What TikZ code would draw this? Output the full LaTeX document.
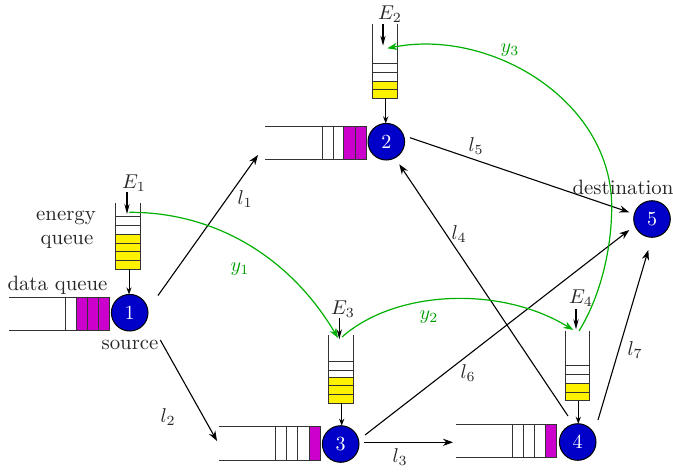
\documentclass[tikz,border=0pt]{standalone}
\usetikzlibrary{arrows.meta}
\definecolor{qmag}{RGB}{204,0,204}
\definecolor{nblue}{RGB}{0,0,200}
\definecolor{cgreen}{RGB}{0,176,0}
\tikzset{
  x=0.5pt,y=-0.5pt,
  every node/.style={inner sep=0pt,outer sep=0pt},
  server/.style={circle,draw=black,fill=nblue,line width=0.5pt,minimum size=18.3pt,text=white,font=\fontsize{10}{12}\selectfont},
  label/.style={text=black!85,font=\fontsize{10.4}{12.5}\selectfont},
  green label/.style={text=cgreen!90!black,font=\fontsize{10.4}{12.5}\selectfont},
  link/.style={draw=black,line width=0.55pt,-{Stealth[length=5pt,width=3.6pt]}},
  feed/.style={draw=black,line width=0.5pt,-{Stealth[length=3.5pt,width=2.6pt]}},
  harvest/.style={draw=black,line width=0.55pt,-{Stealth[length=5pt,width=2.6pt]}},
  green link/.style={draw=cgreen,line width=0.6pt,-{Stealth[length=5pt,width=3.6pt]}},
  green line/.style={draw=cgreen,line width=0.6pt},
  wall/.style={draw=black!80,line width=0.45pt},
}
\begin{document}
\begin{tikzpicture}
\useasboundingbox (0,0) rectangle (673,472);
% servers
\node[server] (n1) at (129.7,312.7) {1};
\node[server] (n2) at (386.3,141.7) {2};
\node[server] (n3) at (340.7,444) {3};
\node[server] (n4) at (577.7,442) {4};
\node[server] (n5) at (652,219) {5};
% data queue 1
\fill[qmag] (76.3,297.3) rectangle (109.7,330.7);
\draw[wall] (8.5,297.3) -- (109.7,297.3) -- (109.7,330.7) -- (8.5,330.7);
\foreach \x in {65.7,76.3,87.3,98.3} \draw[wall] (\x,297.3) -- (\x,330.7);
% data queue 2
\fill[qmag] (343.7,126.7) rectangle (366,159.7);
\draw[wall] (265,126.7) -- (366,126.7) -- (366,159.7) -- (265,159.7);
\foreach \x in {322,333,343.7,355} \draw[wall] (\x,126.7) -- (\x,159.7);
% data queue 3
\fill[qmag] (309,426.7) rectangle (320,460);
\draw[wall] (219,426.7) -- (320,426.7) -- (320,460) -- (219,460);
\foreach \x in {275.7,286.7,297.7,309} \draw[wall] (\x,426.7) -- (\x,460);
% data queue 4
\fill[qmag] (545.3,424.7) rectangle (556.7,457.7);
\draw[wall] (456,424.7) -- (556.7,424.7) -- (556.7,457.7) -- (456,457.7);
\foreach \x in {512.3,523.3,534.3,545.3} \draw[wall] (\x,424.7) -- (\x,457.7);
% energy queue 1
\fill[yellow] (115.7,234.3) rectangle (140.3,269);
\draw[wall] (115.7,203.3) -- (115.7,269) -- (140.3,269) -- (140.3,203.3);
\foreach \y in {216.3,225,234.3,243,251.7,260.3} \draw[wall] (115.7,\y) -- (140.3,\y);
% energy queue 2
\fill[yellow] (372.3,81) rectangle (397,98.3);
\draw[wall] (372.3,24) -- (372.3,98.3) -- (397,98.3) -- (397,24);
\foreach \y in {63,72,81,89.7} \draw[wall] (372.3,\y) -- (397,\y);
% energy queue 3
\fill[yellow] (328.3,377) rectangle (353,403.3);
\draw[wall] (328.3,335) -- (328.3,403.3) -- (353,403.3) -- (353,335);
\foreach \y in {361.3,370,377,385.7,394.3} \draw[wall] (328.3,\y) -- (353,\y);
% energy queue 4
\fill[yellow] (565.3,383.3) rectangle (589.3,400.7);
\draw[wall] (565.3,330.7) -- (565.3,400.7) -- (589.3,400.7) -- (589.3,330.7);
\foreach \y in {365.7,374.7,383.3,392} \draw[wall] (565.3,\y) -- (589.3,\y);
% free ends
\coordinate (e1a) at (127,192.3); \coordinate (e1b) at (127,214);
\coordinate (e2a) at (383,24); \coordinate (e2b) at (383,45.7);
\coordinate (e3a) at (339.3,317.7); \coordinate (e3b) at (339.3,339.3);
\coordinate (e4a) at (576,309); \coordinate (e4b) at (576,329.3);
\coordinate (f1a) at (129,269); \coordinate (f1b) at (129,294.4);
\coordinate (f2a) at (385.7,98.3); \coordinate (f2b) at (385.7,123.4);
\coordinate (f3a) at (341.7,403.3); \coordinate (f3b) at (341.7,425.7);
\coordinate (f4a) at (578.3,400.7); \coordinate (f4b) at (578.3,423.7);
\coordinate (a1) at (158,295.5); \coordinate (q2in) at (258,155);
\coordinate (a2) at (160.3,340); \coordinate (q3in) at (217,441);
\coordinate (a3) at (364,442.3); \coordinate (q4in) at (453,442.3);
\coordinate (a6) at (365,435); \coordinate (b6) at (629.3,230);
\coordinate (a7) at (598,420); \coordinate (b7) at (648.3,250);
\coordinate (a4) at (568,416); \coordinate (b4) at (399.3,164.3);
\coordinate (a5) at (410,137.7); \coordinate (b5) at (629.3,212.3);
\coordinate (g1a) at (129.3,212.3); \coordinate (g1b) at (338,338);
\coordinate (g2a) at (342,337); \coordinate (g2b) at (573.3,330);
\coordinate (g3a) at (579,331); \coordinate (g3m) at (611.7,206.7); \coordinate (g3b) at (387.3,48.3);
% arrows
\draw[harvest] (e1a) -- (e1b);
\draw[harvest] (e2a) -- (e2b);
\draw[harvest] (e3a) -- (e3b);
\draw[harvest] (e4a) -- (e4b);
\draw[feed] (f1a) -- (f1b);
\draw[feed] (f2a) -- (f2b);
\draw[feed] (f3a) -- (f3b);
\draw[feed] (f4a) -- (f4b);
\draw[link] (a1) -- (q2in);
\draw[link] (a2) -- (q3in);
\draw[link] (a3) -- (q4in);
\draw[link] (a6) -- (b6);
\draw[link] (a7) -- (b7);
\draw[link] (a4) -- (b4);
\draw[link] (a5) -- (b5);
\draw[green link] (g1a) .. controls (215,212) and (290,257) .. (g1b);
\draw[green link] (g2a) .. controls (395,290) and (500,285) .. (g2b);
\draw[green link] (g3a) .. controls (600,297) and (611.7,250) .. (g3m) .. controls (611.7,100) and (490,28) .. (g3b);
% labels
\node[label] (tE1) at (134,183) {$E_1$};
\node[label] (tE2) at (390,14) {$E_2$};
\node[label] (tE3) at (343,309) {$E_3$};
\node[label] (tE4) at (581,298) {$E_4$};
\node[label] (tdest) at (623,187) {destination};
\node[label] (tdata) at (57.5,285) {data queue};
\node[label] (ten) at (66,218) {energy};
\node[label] (tqu) at (67,242) {queue};
\node[label] (tsrc) at (130,345) {source};
\node[label] (tl1) at (245,199) {$l_1$};
\node[label] (tl2) at (168,417) {$l_2$};
\node[label] (tl3) at (400,457) {$l_3$};
\node[label] (tl4) at (459,234) {$l_4$};
\node[label] (tl5) at (476,146) {$l_5$};
\node[label] (tl6) at (468,373) {$l_6$};
\node[label] (tl7) at (635,350) {$l_7$};
\node[green label] (ty1) at (240,269) {$y_1$};
\node[green label] (ty2) at (429,317) {$y_2$};
\node[green label] (ty3) at (510,50) {$y_3$};
\end{tikzpicture}
\end{document}
